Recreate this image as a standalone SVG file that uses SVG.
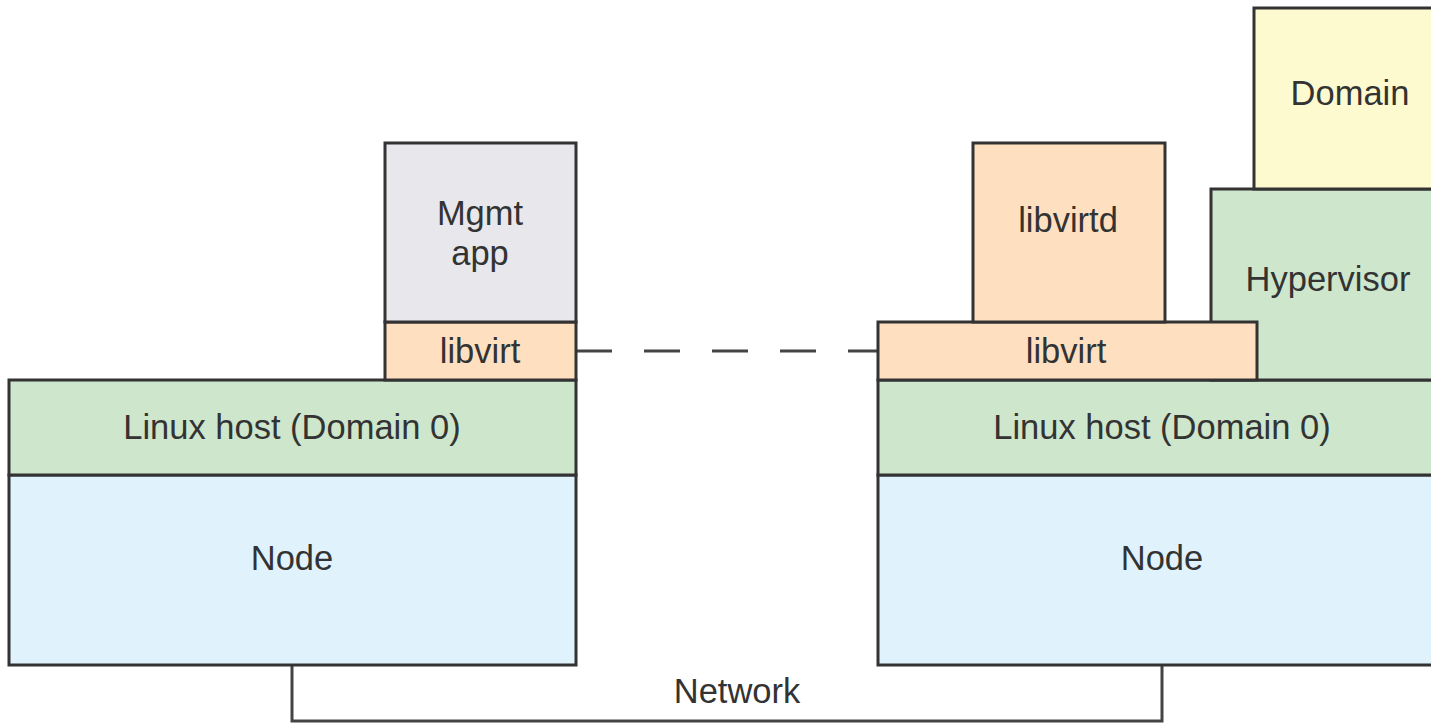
<svg xmlns="http://www.w3.org/2000/svg" width="1431" height="725" viewBox="0 0 1431 725">
<style>
.n{stroke:#333;stroke-width:3}
.g{fill:#e8e8ec}.p{fill:#fee0c0}.gr{fill:#cde6cc}.b{fill:#e0f2fc}.y{fill:#fefad0}
text{font-family:"Liberation Sans",Arial,sans-serif;font-size:34.5px;fill:#333;text-anchor:middle}
.c{fill:none;stroke:#444;stroke-width:3}
</style>
<rect width="1431" height="725" fill="#fff"/>
<g id="connectors">
<path class="c" d="M292 665 V721 H1162 V665"/>
<line class="c" x1="576" y1="351" x2="878" y2="351" stroke-dasharray="36 32"/>
</g>
<g id="left-node"><rect class="n b" x="9" y="475" width="567" height="190"/><text x="292" y="570">Node</text></g>
<g id="left-linux"><rect class="n gr" x="9" y="380" width="567" height="95"/><text x="292" y="439">Linux host (Domain 0)</text></g>
<g id="left-libvirt"><rect class="n p" x="385" y="322" width="191" height="58"/><text x="480" y="363">libvirt</text></g>
<g id="mgmt"><rect class="n g" x="385" y="143" width="191" height="179"/><text x="480" y="225">Mgmt</text><text x="480" y="265">app</text></g>
<g id="right-node"><rect class="n b" x="878" y="475" width="560" height="190"/><text x="1162" y="570">Node</text></g>
<g id="right-linux"><rect class="n gr" x="878" y="380" width="560" height="95"/><text x="1162" y="439">Linux host (Domain 0)</text></g>
<g id="hypervisor"><rect class="n gr" x="1211" y="189" width="227" height="191"/><text x="1328" y="291">Hypervisor</text></g>
<g id="domain"><rect class="n y" x="1254" y="8" width="184" height="181"/><text x="1350" y="105">Domain</text></g>
<g id="right-libvirt"><rect class="n p" x="878" y="322" width="379" height="58"/><text x="1066" y="363">libvirt</text></g>
<g id="libvirtd"><rect class="n p" x="973" y="143" width="192" height="179"/><text x="1068" y="232">libvirtd</text></g>
<text x="737" y="703">Network</text>
</svg>
